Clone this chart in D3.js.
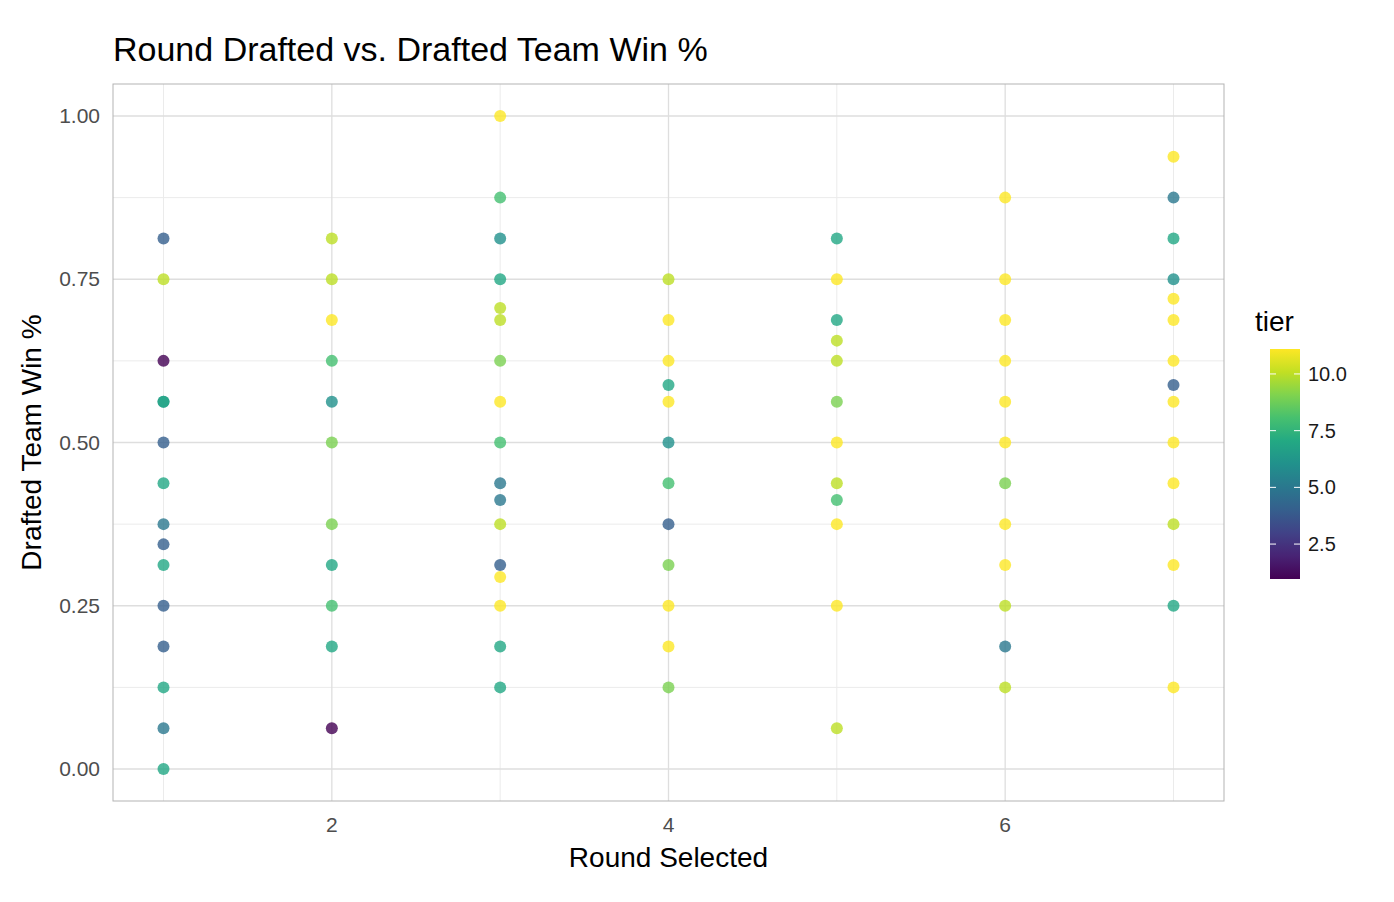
<!DOCTYPE html><html><head><meta charset="utf-8"><script src="https://cdn.jsdelivr.net/npm/d3@7"></script>
<style>body{margin:0;background:#fff}text{font-family:"Liberation Sans",Arial,sans-serif}</style></head><body><svg id="c" width="1394" height="902"></svg>
<script>
const rounds=[1,1,1,1,1,1,1,1,1,1,1,1,1,1,1,
2,2,2,2,2,2,2,2,2,2,2,
3,3,3,3,3,3,3,3,3,3,3,3,3,3,3,3,3,
4,4,4,4,4,4,4,4,4,4,4,4,
5,5,5,5,5,5,5,5,5,5,5,5,
6,6,6,6,6,6,6,6,6,6,6,6,
7,7,7,7,7,7,7,7,7,7,7,7,7,7,7];
const winPct=[0.8125,0.75,0.625,0.5625,0.5625,0.5,0.4375,0.375,0.344,0.3125,0.25,0.1875,0.125,0.0625,0,
0.8125,0.75,0.6875,0.625,0.5625,0.5,0.375,0.3125,0.25,0.1875,0.0625,
1.0,0.875,0.8125,0.75,0.706,0.6875,0.625,0.5625,0.5,0.4375,0.4118,0.375,0.3125,0.294,0.25,0.1875,0.125,
0.75,0.6875,0.625,0.588,0.5625,0.5,0.4375,0.375,0.3125,0.25,0.1875,0.125,
0.8125,0.75,0.6875,0.656,0.625,0.5625,0.5,0.4375,0.4118,0.375,0.25,0.0625,
0.875,0.75,0.6875,0.625,0.5625,0.5,0.4375,0.375,0.3125,0.25,0.1875,0.125,
0.9375,0.875,0.8125,0.75,0.72,0.6875,0.625,0.588,0.5625,0.5,0.4375,0.375,0.3125,0.25,0.125];
const tiers=[4,10,1,6,7,4,7,5,4,7,4,4,7,5,7,
10,10,11,8,6,9,9,7,8,7,1,
11,8,6,7,10,10,9,11,8,5,5,10,4,11,11,7,7,
10,11,11,7,11,6,8,4,9,11,11,9,
7,11,7,10,10,9,11,10,8,11,11,10,
11,11,11,11,11,11,9,11,11,10,5,10,
11,5,7,6,11,11,11,4,11,11,11,10,11,7,11];
const xTicks=[2,4,6], yTicks=[0,0.25,0.5,0.75,1], legendTicks=[2.5,5,7.5,10];
const svg=d3.select("#c");
const L=113,R=1224,T=84,B=801;
const x=d3.scaleLinear().domain([0.7,7.3]).range([L,R]);
const y=d3.scaleLinear().domain([-0.049,1.049]).range([B,T]);
const col=d3.scaleSequential(d3.interpolateViridis).domain([1,11]);
const g=svg.append("g");
[1,3,5,7].forEach(v=>g.append("line").attr("x1",x(v)).attr("x2",x(v)).attr("y1",T).attr("y2",B).attr("stroke","#ebebeb").attr("stroke-width",1));
[0.125,0.375,0.625,0.875].forEach(v=>g.append("line").attr("x1",L).attr("x2",R).attr("y1",y(v)).attr("y2",y(v)).attr("stroke","#ebebeb").attr("stroke-width",1));
xTicks.forEach(v=>g.append("line").attr("x1",x(v)).attr("x2",x(v)).attr("y1",T).attr("y2",B).attr("stroke","#dedede").attr("stroke-width",1.3));
yTicks.forEach(v=>g.append("line").attr("x1",L).attr("x2",R).attr("y1",y(v)).attr("y2",y(v)).attr("stroke","#dedede").attr("stroke-width",1.3));
g.append("rect").attr("x",L).attr("y",T).attr("width",R-L).attr("height",B-T).attr("fill","none").attr("stroke","#b3b3b3");
svg.append("g").selectAll("circle").data(rounds.map((r,i)=>({r,w:winPct[i],t:tiers[i]}))).join("circle")
 .attr("cx",d=>x(d.r)).attr("cy",d=>y(d.w)).attr("r",6).attr("fill",d=>col(d.t)).attr("fill-opacity",0.8);
xTicks.forEach(v=>svg.append("text").attr("x",x(v)).attr("y",B+31).attr("text-anchor","middle").attr("font-size",21).attr("fill","#4d4d4d").text(v));
yTicks.forEach(v=>svg.append("text").attr("x",L-13).attr("y",y(v)+7).attr("text-anchor","end").attr("font-size",21).attr("fill","#4d4d4d").text(v.toFixed(2)));
svg.append("text").attr("x",(L+R)/2).attr("y",867).attr("text-anchor","middle").attr("font-size",28).text("Round Selected");
svg.append("text").attr("transform",`translate(41,${(T+B)/2}) rotate(-90)`).attr("text-anchor","middle").attr("font-size",28).text("Drafted Team Win %");
svg.append("text").attr("x",113).attr("y",61).attr("font-size",34).text("Round Drafted vs. Drafted Team Win %");
const lg=svg.append("g");
const lT=349,lB=579,lX=1270,lW=30;
const ly=d3.scaleLinear().domain([0.96,11.1]).range([lB,lT]);
const defs=svg.append("defs").append("linearGradient").attr("id","gr").attr("x1",0).attr("x2",0).attr("y1",1).attr("y2",0);
d3.range(0,1.001,0.1).forEach(s=>defs.append("stop").attr("offset",s).attr("stop-color",col(0.96+s*(11.1-0.96))));
lg.append("rect").attr("x",lX).attr("y",lT).attr("width",lW).attr("height",lB-lT).attr("fill","url(#gr)");
legendTicks.forEach(v=>{
 lg.append("line").attr("x1",lX).attr("x2",lX+6).attr("y1",ly(v)).attr("y2",ly(v)).attr("stroke","#fff");
 lg.append("line").attr("x1",lX+lW-6).attr("x2",lX+lW).attr("y1",ly(v)).attr("y2",ly(v)).attr("stroke","#fff");
 lg.append("text").attr("x",lX+lW+8).attr("y",ly(v)+7).attr("font-size",20).attr("fill","#1a1a1a").text(v.toFixed(1));
});
lg.append("text").attr("x",1255).attr("y",331).attr("font-size",28).text("tier");
</script></body></html>
